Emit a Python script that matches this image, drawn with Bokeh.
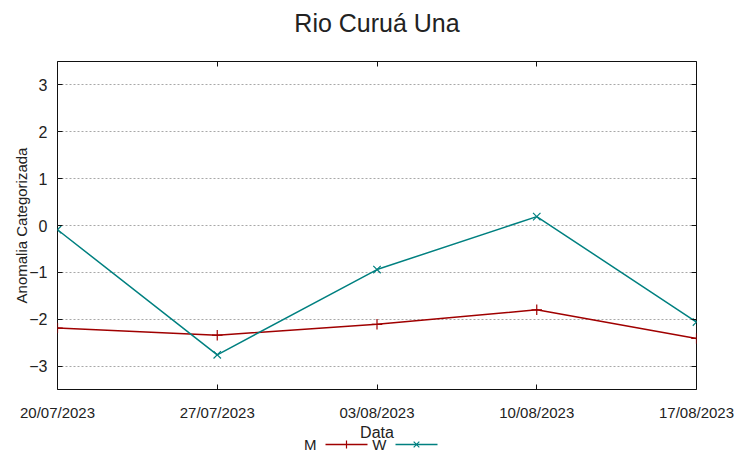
import pandas as pd
from bokeh.plotting import figure
from bokeh.layouts import column
from bokeh.models import (Range1d, FixedTicker, DatetimeAxis, LinearAxis, DatetimeTickFormatter,
                          Label)
from bokeh.embed import file_html
from bokeh.resources import INLINE

# ---- data ----
dates = ["20/07/2023", "27/07/2023", "03/08/2023", "10/08/2023", "17/08/2023"]
m_values = [-2.19, -2.34, -2.11, -1.80, -2.41]
w_values = [-0.09, -2.76, -0.94, 0.19, -2.06]
y_ticks = [-3, -2, -1, 0, 1, 2, 3]
series_names = ["M", "W"]
title_text = "Rio Curuá Una"
x_label = "Data"
y_label = "Anomalia Categorizada"

x = pd.to_datetime(dates, format="%d/%m/%Y")
x_ms = [int(t.value // 10**6) for t in x]

FONT = "Liberation Sans"
TXT = "#222222"
RED = "#a00000"
TEAL = "#008080"
colors = [RED, TEAL]
markers = ["cross", "x"]
W = 744
BL, BR = 57, 48          # left / right borders of every row (frames are aligned)
FX0, FX1 = BL, W - BR    # frame extent in pixels


def strip(height):
    f = figure(width=W, height=height, x_range=Range1d(FX0, FX1), y_range=Range1d(0, height),
               x_axis_location=None, y_axis_location=None, title_location=None,
               output_backend="svg", toolbar_location=None,
               min_border=0, min_border_left=BL, min_border_right=BR,
               min_border_top=0, min_border_bottom=0)
    f.outline_line_color = None
    f.grid.visible = False
    f.background_fill_color = "white"
    f.border_fill_color = "white"
    return f


# ---- title strip ----
TOP_H = 57
pt = strip(TOP_H)
pt.add_layout(Label(x=376.5, y=35, text=title_text, text_font=FONT, text_font_size="25px",
                    text_color=TXT, text_align="center", text_baseline="middle"))

# ---- main plot ----
p = figure(width=W, height=366, x_axis_type="datetime", title_location=None,
           x_range=Range1d(x_ms[0], x_ms[-1]), y_range=Range1d(-3.5, 3.5),
           output_backend="svg", toolbar_location=None,
           min_border_left=BL, min_border_right=BR, min_border_top=4, min_border_bottom=34)

p.outline_line_color = "#111111"
p.outline_line_width = 1
p.background_fill_color = "white"
p.border_fill_color = "white"

p.xgrid.visible = False
p.ygrid.ticker = FixedTicker(ticks=y_ticks)
p.ygrid.grid_line_color = "#a8a8a8"
p.ygrid.grid_line_dash = "2 2"
p.ygrid.grid_line_width = 1

fmt = DatetimeTickFormatter(days="%d/%m/%Y", months="%d/%m/%Y", years="%d/%m/%Y",
                            hours="%d/%m/%Y", minutes="%d/%m/%Y", seconds="%d/%m/%Y",
                            minsec="%d/%m/%Y", hourmin="%d/%m/%Y", milliseconds="%d/%m/%Y",
                            microseconds="%d/%m/%Y")

xa = p.xaxis[0]
xa.ticker = FixedTicker(ticks=x_ms)
xa.formatter = fmt
xa.axis_line_color = None
xa.major_tick_in = 5
xa.major_tick_out = 0
xa.minor_tick_line_color = None
xa.major_tick_line_color = "#111111"
xa.major_label_standoff = 14
xa.major_label_text_font = FONT
xa.major_label_text_font_size = "15px"
xa.major_label_text_color = TXT


def ticks_only(axis):
    axis.axis_line_color = None
    axis.major_tick_in = 5
    axis.major_tick_out = 0
    axis.minor_tick_line_color = None
    axis.major_tick_line_color = "#111111"
    axis.major_label_text_font_size = "1px"
    axis.major_label_text_color = None
    axis.major_label_standoff = 0


ta = DatetimeAxis(ticker=FixedTicker(ticks=x_ms), formatter=fmt)
ticks_only(ta)
p.add_layout(ta, "above")

ya = p.yaxis[0]
ya.ticker = FixedTicker(ticks=y_ticks)
ya.axis_line_color = None
ya.major_tick_in = 5
ya.major_tick_out = 0
ya.minor_tick_line_color = None
ya.major_tick_line_color = "#111111"
ya.major_label_standoff = 10
ya.major_label_text_font = FONT
ya.major_label_text_font_size = "16px"
ya.major_label_text_color = TXT
ya.axis_label = y_label
ya.axis_label_text_font = FONT
ya.axis_label_text_font_size = "15px"
ya.axis_label_text_font_style = "normal"
ya.axis_label_text_color = TXT
ya.axis_label_standoff = -4

ra = LinearAxis(ticker=FixedTicker(ticks=y_ticks))
ticks_only(ra)
p.add_layout(ra, "right")

series = [m_values, w_values]
for vals, col, mk in zip(series, colors, markers):
    p.line(x_ms, vals, line_color=col, line_width=1.5)
    p.scatter(x_ms, vals, marker=mk, size=10.5, line_color=col, line_width=1.2)

# ---- strip under the plot: axis name and gnuplot-style key (name left of sample) ----
BOT_H = 32
pl = strip(BOT_H)
pl.add_layout(Label(x=376.5, y=23.5, text=x_label, text_font=FONT, text_font_size="16px",
                    text_color=TXT, text_align="center", text_baseline="middle"))

KEY_X0, KEY_STEP, KEY_SAMPLE, KEY_Y = 325, 70, 42, 11
sx0 = [KEY_X0 + i * KEY_STEP for i in range(len(series_names))]
sx1 = [s + KEY_SAMPLE for s in sx0]
smid = [s + KEY_SAMPLE / 2 for s in sx0]
pl.segment(x0=sx0, y0=[KEY_Y] * len(sx0), x1=sx1, y1=[KEY_Y] * len(sx0),
           line_color=colors, line_width=1.5)
for xm, col, mk in zip(smid, colors, markers):
    pl.scatter([xm], [KEY_Y], marker=mk, size=8, line_color=col, line_width=1.2)
for s, name in zip(sx0, series_names):
    pl.add_layout(Label(x=s - 9, y=11.5, text=name, text_font=FONT, text_font_size="15px",
                        text_color=TXT, text_align="right", text_baseline="middle"))

layout = column(pt, p, pl, spacing=0)
open("out.html", "w").write(file_html(layout, INLINE))
